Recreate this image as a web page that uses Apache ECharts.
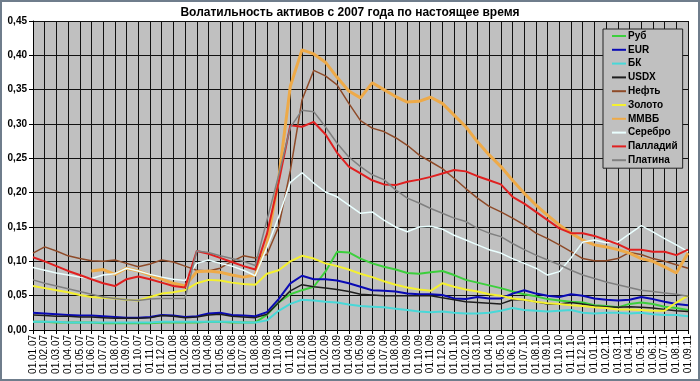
<!DOCTYPE html>
<html>
<head>
<meta charset="utf-8">
<script src="https://cdn.jsdelivr.net/npm/echarts@6/dist/echarts.min.js"></script>
<style>html,body{margin:0;padding:0;background:#fff}#c{width:700px;height:381px}</style>
</head>
<body>
<div id="c"></div>
<script>
const months = ['01.01.07','01.02.07','01.03.07','01.04.07','01.05.07','01.06.07','01.07.07','01.08.07','01.09.07','01.10.07','01.11.07','01.12.07',
'01.01.08','01.02.08','01.03.08','01.04.08','01.05.08','01.06.08','01.07.08','01.08.08','01.09.08','01.10.08','01.11.08','01.12.08',
'01.01.09','01.02.09','01.03.09','01.04.09','01.05.09','01.06.09','01.07.09','01.08.09','01.09.09','01.10.09','01.11.09','01.12.09',
'01.01.10','01.02.10','01.03.10','01.04.10','01.05.10','01.06.10','01.07.10','01.08.10','01.09.10','01.10.10','01.11.10','01.12.10',
'01.01.11','01.02.11','01.03.11','01.04.11','01.05.11','01.06.11','01.07.11','01.08.11','01.09.11'];

const rub = [0.012,0.012,0.011,0.011,0.011,0.011,0.010,0.010,0.010,0.010,0.010,0.011,0.011,0.011,0.011,0.012,0.012,0.011,0.011,0.011,
0.022,0.040,0.052,0.058,0.063,0.085,0.114,0.113,0.104,0.097,0.092,0.088,0.083,0.082,0.084,0.086,0.080,0.073,0.069,0.065,0.061,0.056,
0.052,0.049,0.045,0.043,0.041,0.040,0.036,0.035,0.033,0.038,0.040,0.038,0.034,0.032,0.029];
const eur = [0.025,0.024,0.023,0.022,0.021,0.021,0.020,0.019,0.018,0.018,0.019,0.022,0.021,0.019,0.020,0.024,0.025,0.022,0.021,0.020,
0.026,0.045,0.068,0.079,0.074,0.074,0.072,0.068,0.063,0.058,0.057,0.056,0.053,0.052,0.052,0.051,0.046,0.045,0.048,0.046,0.046,0.053,
0.058,0.053,0.050,0.048,0.052,0.050,0.046,0.044,0.043,0.044,0.048,0.045,0.041,0.038,0.036];
const bk = [0.012,0.012,0.012,0.011,0.011,0.011,0.011,0.011,0.011,0.011,0.011,0.012,0.012,0.012,0.012,0.012,0.012,0.012,0.011,0.011,
0.014,0.028,0.038,0.044,0.043,0.041,0.040,0.037,0.035,0.034,0.033,0.031,0.029,0.027,0.026,0.027,0.025,0.024,0.024,0.025,0.028,0.032,
0.029,0.028,0.027,0.028,0.029,0.025,0.024,0.025,0.025,0.024,0.025,0.023,0.022,0.022,0.020];
const usdx = [0.022,0.021,0.020,0.020,0.019,0.019,0.018,0.017,0.017,0.017,0.018,0.021,0.020,0.018,0.019,0.022,0.023,0.020,0.019,0.018,
0.023,0.040,0.057,0.066,0.063,0.061,0.059,0.056,0.052,0.051,0.050,0.050,0.050,0.050,0.050,0.047,0.044,0.041,0.040,0.039,0.038,0.044,
0.044,0.041,0.038,0.038,0.040,0.038,0.035,0.034,0.033,0.034,0.033,0.032,0.030,0.028,0.027];
const oil = [0.112,0.121,0.115,0.108,0.104,0.101,0.100,0.102,0.097,0.092,0.096,0.102,0.099,0.093,0.087,0.086,0.090,0.100,0.108,0.105,
0.110,0.150,0.232,0.335,0.378,0.370,0.357,0.330,0.305,0.294,0.289,0.280,0.269,0.255,0.245,0.235,0.221,0.206,0.192,0.180,0.172,0.163,
0.153,0.141,0.133,0.124,0.114,0.104,0.101,0.101,0.104,0.113,0.110,0.104,0.100,0.095,0.090];
const gold = [0.064,0.061,0.058,0.055,0.051,0.048,0.047,0.046,0.044,0.043,0.048,0.053,0.055,0.058,0.068,0.073,0.072,0.069,0.067,0.066,
0.082,0.087,0.100,0.108,0.104,0.097,0.093,0.088,0.082,0.077,0.071,0.066,0.062,0.059,0.057,0.068,0.063,0.059,0.056,0.052,0.050,0.046,
0.044,0.041,0.039,0.038,0.036,0.035,0.033,0.032,0.030,0.030,0.029,0.028,0.028,0.040,0.050];
const micex = [null,null,null,null,null,0.086,0.088,0.081,0.090,0.086,0.080,0.074,0.068,0.064,0.085,0.086,0.084,0.080,0.077,0.080,
0.125,0.220,0.355,0.408,0.402,0.390,0.368,0.348,0.338,0.360,0.350,0.340,0.332,0.333,0.339,0.330,0.313,0.296,0.274,0.255,0.238,0.218,
0.199,0.182,0.167,0.153,0.141,0.131,0.124,0.121,0.117,0.112,0.104,0.100,0.092,0.083,0.112];
const silver = [0.091,0.087,0.083,0.080,0.077,0.075,0.080,0.082,0.090,0.086,0.081,0.077,0.074,0.072,0.097,0.102,0.097,0.093,0.087,0.079,
0.120,0.165,0.215,0.229,0.214,0.201,0.194,0.182,0.170,0.172,0.160,0.150,0.143,0.150,0.151,0.147,0.138,0.131,0.124,0.117,0.112,0.104,
0.097,0.090,0.080,0.085,0.105,0.128,0.131,0.127,0.128,0.140,0.152,0.143,0.133,0.124,0.114];
const palladium = [0.106,0.100,0.093,0.086,0.080,0.074,0.068,0.064,0.074,0.078,0.074,0.069,0.064,0.062,0.115,0.111,0.105,0.099,0.093,0.088,
0.140,0.215,0.298,0.296,0.303,0.285,0.258,0.238,0.228,0.218,0.212,0.211,0.216,0.219,0.223,0.228,0.233,0.231,0.224,0.218,0.212,0.194,
0.184,0.172,0.160,0.148,0.141,0.141,0.137,0.131,0.125,0.117,0.117,0.114,0.114,0.109,0.117];
const platinum = [0.073,0.068,0.064,0.060,0.056,0.052,0.048,0.046,0.044,0.043,0.045,0.046,0.046,0.046,0.115,0.113,0.108,0.104,0.100,0.094,
0.160,0.225,0.295,0.320,0.318,0.296,0.272,0.252,0.238,0.226,0.219,0.204,0.192,0.185,0.177,0.170,0.163,0.158,0.148,0.141,0.136,0.126,
0.117,0.109,0.102,0.095,0.087,0.080,0.075,0.070,0.066,0.062,0.058,0.056,0.054,0.052,0.049];

const seriesDefs = [
  ['Руб', rub, '#3ccf3c', 2],
  ['EUR', eur, '#0a0ab4', 2],
  ['БК', bk, '#48d8d8', 2],
  ['USDX', usdx, '#1e1e1e', 1.5],
  ['Нефть', oil, '#8e4a28', 1.5],
  ['Золото', gold, '#f4f030', 2],
  ['ММВБ', micex, '#eeaa48', 3],
  ['Серебро', silver, '#eaffff', 1.5],
  ['Палладий', palladium, '#e02020', 2],
  ['Платина', platinum, '#808080', 1.5]
];

const font = 'Liberation Sans, Arial, sans-serif';
const chart = echarts.init(document.getElementById('c'));
chart.setOption({
  animation: false,
  backgroundColor: '#ffffff',
  title: {
    text: 'Волатильность активов с 2007 года по настоящее время',
    left: 'center', top: 2,
    textStyle: {fontFamily: font, fontSize: 12, fontWeight: 'bold', color: '#000'}
  },
  grid: {left: 33, right: 12, top: 21, bottom: 51, show: true, backgroundColor: '#c0c0c0', borderWidth: 0},
  legend: {
    orient: 'vertical', left: 603, top: 29,
    padding: [2, 5, 3, 9], itemGap: 3.8, itemWidth: 14, itemHeight: 10,
    icon: 'path://M0,0 H14 V2 H0 Z', symbolKeepAspect: true,
    backgroundColor: '#c0c0c0', borderColor: '#222', borderWidth: 1,
    textStyle: {fontFamily: font, fontSize: 10, fontWeight: 'bold', color: '#000', padding: [0,0,0,-3]},
    data: seriesDefs.map(d => d[0])
  },
  xAxis: {
    type: 'category', boundaryGap: false, data: months,
    axisLine: {lineStyle: {color: '#000', width: 1}},
    axisTick: {show: true, interval: 0, length: 4, lineStyle: {color: '#000'}},
    axisLabel: {interval: 0, rotate: 90, fontFamily: font, fontSize: 10, color: '#000', margin: 5},
    splitLine: {show: true, interval: 0, lineStyle: {color: '#111', width: 1}}
  },
  yAxis: {
    type: 'value', min: 0, max: 0.45, interval: 0.05,
    axisLine: {show: true, lineStyle: {color: '#000'}},
    axisTick: {show: true, length: 4, lineStyle: {color: '#000'}},
    axisLabel: {fontFamily: font, fontSize: 10, fontWeight: 'bold', color: '#000', margin: 6,
      formatter: v => v.toFixed(2).replace('.', ',')},
    splitLine: {show: true, lineStyle: {color: '#111', width: 1}}
  },
  graphic: [{type: 'rect', shape: {x: 1, y: 1, width: 698, height: 379}, style: {fill: 'none', stroke: '#6f7d8c', lineWidth: 2}, silent: true}],
  series: seriesDefs.map(d => ({
    name: d[0], type: 'line', data: d[1], symbol: 'none', showSymbol: false,
    connectNulls: false,
    lineStyle: {color: d[2], width: d[3]}, itemStyle: {color: d[2]}
  }))
});
</script>
</body>
</html>
